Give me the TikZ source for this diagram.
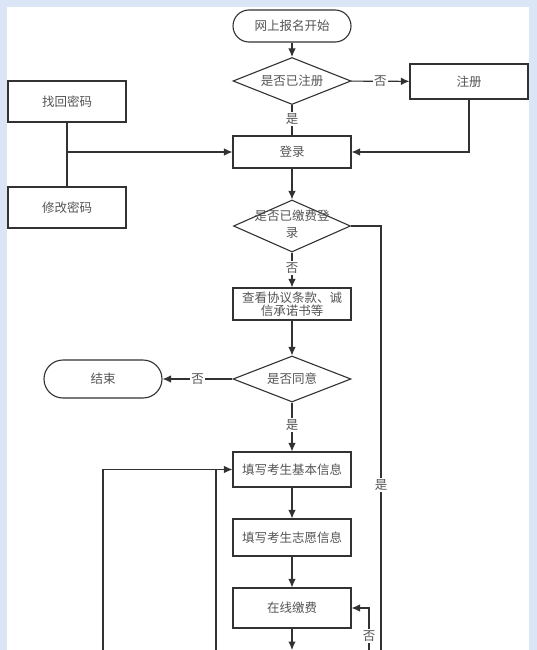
\documentclass[tikz,border=0pt]{standalone}
\usepackage{fontspec}
\newfontfamily\cjk{Noto Sans CJK SC}
\usetikzlibrary{arrows,arrows.meta,shapes.geometric}
\definecolor{line_gray}{RGB}{50,50,50}
\definecolor{text_gray}{RGB}{85,85,85}
\definecolor{page_blue}{RGB}{218,230,245}

\begin{document}
\begin{tikzpicture}[->,line width=1.1pt,>={Latex[length=8.5pt,width=7.5pt]},x=1pt,y=-1pt,color=line_gray]
    \tikzstyle{proc}=[draw=line_gray, rectangle, minimum width=118pt, minimum height=34pt, fill=white, text=text_gray, font=\cjk\fontsize{12.5}{13}\selectfont, align=center, inner sep=1pt]
    \tikzstyle{term}=[proc, rounded corners=16pt, minimum height=32pt]
    \tikzstyle{decide}=[proc, diamond, aspect=2.5, inner sep=0pt, minimum width=118pt, minimum height=47pt]
    \tikzstyle{lbl}=[fill=white, text=text_gray, font=\cjk\fontsize{12.5}{13}\selectfont, align=center, inner sep=1.5pt]

    % page
    \useasboundingbox (0,0) rectangle (537,650);
    \clip (0,0) rectangle (537,650);
    \fill[page_blue] (0,0) rectangle (537,650);
    \fill[white] (7,7) rectangle (529,650);

    \node[term] (start)    at (292,26)    {网上报名开始};
    \node[decide] (reg)    at (292,81)    {是否已注册};
    \node[proc] (signup)   at (469,81.5)  [minimum height=35pt] {注册};
    \node[proc] (login)    at (292,152)   [minimum height=32pt] {登录};
    \node[proc] (retrieve) at (67,101.5)  [minimum height=41pt] {找回密码};
    \node[proc] (change)   at (67,207.5)  [minimum height=41pt] {修改密码};
    \node[decide] (paid)   at (292,226)   [minimum width=117pt, minimum height=52pt] {};
    \node[lbl, fill=none] (paid_txt) at (292,224) {是否已缴费登\\[4pt]录};
    \node[proc] (terms)    at (292,304)   [minimum height=32pt] {查看协议条款、诚\\信承诺书等};
    \node[decide] (agree)  at (292,379)   [minimum height=46pt] {是否同意};
    \node[term] (finish)   at (103,379)   [minimum height=38pt, rounded corners=19pt] {结束};
    \node[proc] (basic)    at (292,469.5) [minimum height=35pt] {填写考生基本信息};
    \node[proc] (wish)     at (292,537.5) [minimum height=37pt] {填写考生志愿信息};
    \node[proc] (pay)      at (292,608)   [minimum height=40pt] {在线缴费};

    \coordinate (join)      at (67,152);
    \coordinate (cut_mid)   at (292,650);
    \coordinate (cut_right) at (381,650);
    \coordinate (cut_pay)   at (369,650);
    \coordinate (cut_left)  at (103,650);
    \coordinate (cut_inner) at (216,650);
    \coordinate (inner_top) at (216,469.5);

    \path
     (start) edge[] (reg)
     (reg) edge[] node[lbl] {否} (signup)
     (reg) edge[-] node[lbl, pos=0.45] {是} (login)
     (login) edge[] (paid)
     (paid) edge[] node[lbl, pos=0.45] {否} (terms)
     (terms) edge[] (agree)
     (agree) edge[] node[lbl] {否} (finish)
     (agree) edge[] node[lbl, pos=0.45] {是} (basic)
     (basic) edge[] (wish)
     (wish) edge[] (pay)
     (pay) edge[] (cut_mid)
     ;
    \draw[-] (retrieve) -- (change);
    \draw (join) -- (login);
    \draw (signup) |- (login);
    \draw[-] (paid.east) -| node[lbl, pos=0.805] {是} (cut_right);
    \draw (cut_pay) |- node[lbl, pos=0.17] {否} (pay);
    \draw (cut_left) |- (basic);
    \draw[-] (cut_inner) -- (inner_top);
\end{tikzpicture}
\end{document}
